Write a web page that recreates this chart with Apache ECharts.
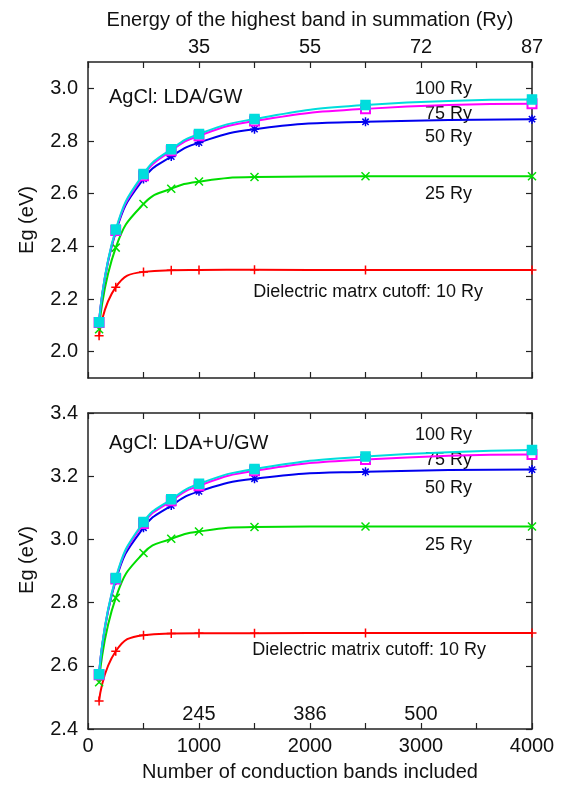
<!DOCTYPE html>
<html>
<head>
<meta charset="utf-8">
<script src="https://cdn.jsdelivr.net/npm/echarts@6/dist/echarts.min.js"></script>
<style>
html, body { margin: 0; padding: 0; background: #fff; }
#chart { width: 573px; height: 785px; }
</style>
</head>
<body>
<div id="chart"></div>
<script>
// Number of conduction bands included in the summation
const bands = [100, 250, 500, 750, 1000, 1500, 2500, 4000];

// AgCl band gap (eV), LDA/GW, one array per dielectric-matrix cutoff
const ldaCut10  = [2.060, 2.245, 2.303, 2.309, 2.310, 2.311, 2.310, 2.310];
const ldaCut25  = [2.085, 2.395, 2.561, 2.619, 2.646, 2.663, 2.666, 2.666];
const ldaCut50  = [2.110, 2.455, 2.656, 2.741, 2.794, 2.845, 2.873, 2.883];
const ldaCut75  = [2.111, 2.460, 2.668, 2.763, 2.820, 2.876, 2.922, 2.941];
const ldaCut100 = [2.112, 2.464, 2.675, 2.769, 2.827, 2.884, 2.937, 2.958];

// AgCl band gap (eV), LDA+U/GW
const ldauCut10  = [2.489, 2.646, 2.697, 2.702, 2.703, 2.703, 2.704, 2.704];
const ldauCut25  = [2.548, 2.815, 2.957, 3.002, 3.025, 3.039, 3.041, 3.041];
const ldauCut50  = [2.570, 2.870, 3.037, 3.107, 3.152, 3.192, 3.214, 3.221];
const ldauCut75  = [2.572, 2.875, 3.050, 3.122, 3.170, 3.217, 3.253, 3.269];
const ldauCut100 = [2.573, 2.878, 3.055, 3.127, 3.176, 3.223, 3.262, 3.283];

const cutoffNames = ['10 Ry', '25 Ry', '50 Ry', '75 Ry', '100 Ry'];

// Tick positions and labels
const bandTicks = [0, 500, 1000, 1500, 2000, 2500, 3000, 3500, 4000];
const bandLabelPos = [0, 1000, 2000, 3000, 4000];
const energyLabelPos = [1000, 2000, 3000, 4000];
const energyLabels = ['35', '55', '72', '87'];
const innerLabelPos = [1000, 2000, 3000];
const innerLabels = ['245', '386', '500'];
const ldaYTicks = [2.0, 2.2, 2.4, 2.6, 2.8, 3.0];
const ldauYTicks = [2.4, 2.6, 2.8, 3.0, 3.2, 3.4];

const FONT = 'Liberation Sans, Arial, Helvetica, sans-serif';
const INK = '#111';

const styles = [
  { color: '#ff0000', symbol: 'path://M0,5L10,5M5,0L5,10', size: 9 },
  { color: '#00dd00', symbol: 'path://M1,1L9,9M9,1L1,9', size: 8 },
  { color: '#0000ee', symbol: 'path://M0,5L10,5M5,0L5,10M1.5,1.5L8.5,8.5M8.5,1.5L1.5,8.5', size: 9 },
  { color: '#ff00ff', symbol: 'emptyRect', size: 9 },
  { color: '#00dddd', symbol: 'rect', size: 9 }
];

function makeSeries(values, idx, panel) {
  const s = styles[idx];
  return {
    type: 'line',
    name: cutoffNames[idx],
    xAxisIndex: panel === 0 ? 0 : 2,
    yAxisIndex: panel === 0 ? 0 : 2,
    data: bands.map((b, i) => [b, values[i]]),
    smooth: 0.5,
    symbol: s.symbol,
    symbolSize: s.size,
    showAllSymbol: true,
    lineStyle: { color: s.color, width: 2 },
    itemStyle: { color: s.color, borderColor: s.color, borderWidth: 1.5 },
    emphasis: { disabled: true },
    z: 2 + idx
  };
}

const frameLine = { show: true, onZero: false, lineStyle: { color: '#222', width: 1.5 } };
const tickStyle = { show: true, inside: true, length: 6, lineStyle: { color: '#222', width: 1.2 } };
const labelFont = { fontFamily: FONT, fontSize: 20, color: INK };

function xAxisBase(grid, position) {
  return {
    type: 'value', gridIndex: grid, position: position,
    min: 0, max: 4000, interval: 500,
    axisLine: frameLine,
    axisTick: Object.assign({ customValues: bandTicks }, tickStyle),
    axisLabel: { show: false },
    splitLine: { show: false }
  };
}

function yAxisBase(grid, position, min, max, ticks) {
  return {
    type: 'value', gridIndex: grid, position: position,
    min: min, max: max,
    axisLine: frameLine,
    axisTick: Object.assign({ customValues: ticks }, tickStyle),
    axisLabel: { show: false },
    splitLine: { show: false }
  };
}

// Top panel x axes
const xTopBottom = xAxisBase(0, 'bottom');
const xTopTop = xAxisBase(0, 'top');
xTopTop.axisLabel = Object.assign({
  show: true, margin: 5, customValues: energyLabelPos,
  formatter: v => energyLabels[energyLabelPos.indexOf(v)]
}, labelFont);
xTopTop.name = 'Energy of the highest band in summation (Ry)';
xTopTop.nameLocation = 'middle';
xTopTop.nameGap = 32;
xTopTop.nameTextStyle = { fontFamily: FONT, fontSize: 20, color: INK };

// Bottom panel x axes
const xBotBottom = xAxisBase(1, 'bottom');
xBotBottom.axisLabel = Object.assign({
  show: true, margin: 7, customValues: bandLabelPos,
  formatter: v => String(v)
}, labelFont);
xBotBottom.name = 'Number of conduction bands included';
xBotBottom.nameLocation = 'middle';
xBotBottom.nameGap = 33;
xBotBottom.nameTextStyle = { fontFamily: FONT, fontSize: 20, color: INK };
const xBotTop = xAxisBase(1, 'top');
const xBotInner = {
  type: 'value', gridIndex: 1, position: 'bottom',
  min: 0, max: 4000, interval: 500,
  axisLine: { show: false }, axisTick: { show: false }, splitLine: { show: false },
  axisLabel: Object.assign({
    show: true, inside: true, margin: 5, customValues: innerLabelPos,
    formatter: v => innerLabels[innerLabelPos.indexOf(v)]
  }, labelFont)
};

function leftY(grid, min, max, ticks) {
  const a = yAxisBase(grid, 'left', min, max, ticks);
  a.axisLabel = Object.assign({
    show: true, margin: 10, customValues: ticks,
    formatter: v => v.toFixed(1)
  }, labelFont);
  a.name = 'Eg (eV)';
  a.nameLocation = 'middle';
  a.nameGap = 51;
  a.nameTextStyle = { fontFamily: FONT, fontSize: 20, color: INK };
  return a;
}

const yTopLeft = leftY(0, 1.9, 3.1, ldaYTicks);
const yTopRight = yAxisBase(0, 'right', 1.9, 3.1, ldaYTicks);
const yBotLeft = leftY(1, 2.4, 3.4, ldauYTicks);
yBotLeft.nameTextStyle.padding = [0, 0, 0, 22];
const yBotRight = yAxisBase(1, 'right', 2.4, 3.4, ldauYTicks);

function txt(x, y, text, align, size) {
  return {
    type: 'text', x: x, y: y, silent: true,
    style: {
      text: text, fill: INK, font: size + 'px ' + FONT,
      textAlign: align, textVerticalAlign: 'middle'
    }
  };
}

const option = {
  animation: false,
  backgroundColor: '#fff',
  grid: [
    { left: 88, top: 62, width: 444, height: 316 },
    { left: 88, top: 413, width: 444, height: 316 }
  ],
  xAxis: [xTopBottom, xTopTop, xBotBottom, xBotTop, xBotInner],
  yAxis: [yTopLeft, yTopRight, yBotLeft, yBotRight],
  series: [
    makeSeries(ldaCut10, 0, 0), makeSeries(ldaCut25, 1, 0), makeSeries(ldaCut50, 2, 0),
    makeSeries(ldaCut75, 3, 0), makeSeries(ldaCut100, 4, 0),
    makeSeries(ldauCut10, 0, 1), makeSeries(ldauCut25, 1, 1), makeSeries(ldauCut50, 2, 1),
    makeSeries(ldauCut75, 3, 1), makeSeries(ldauCut100, 4, 1)
  ],
  graphic: [
    txt(109, 97, 'AgCl: LDA/GW', 'left', 20),
    txt(472, 89, cutoffNames[4], 'right', 18),
    txt(472, 114, cutoffNames[3], 'right', 18),
    txt(472, 137, cutoffNames[2], 'right', 18),
    txt(472, 194, cutoffNames[1], 'right', 18),
    txt(483, 292, 'Dielectric matrx cutoff: ' + cutoffNames[0], 'right', 18),

    txt(109, 443, 'AgCl: LDA+U/GW', 'left', 20),
    txt(472, 435, cutoffNames[4], 'right', 18),
    txt(472, 460, cutoffNames[3], 'right', 18),
    txt(472, 488, cutoffNames[2], 'right', 18),
    txt(472, 545, cutoffNames[1], 'right', 18),
    txt(486, 650, 'Dielectric matrix cutoff: ' + cutoffNames[0], 'right', 18)
  ]
};

const chart = echarts.init(document.getElementById('chart'), null, { renderer: 'canvas' });
chart.setOption(option);
</script>
</body>
</html>
